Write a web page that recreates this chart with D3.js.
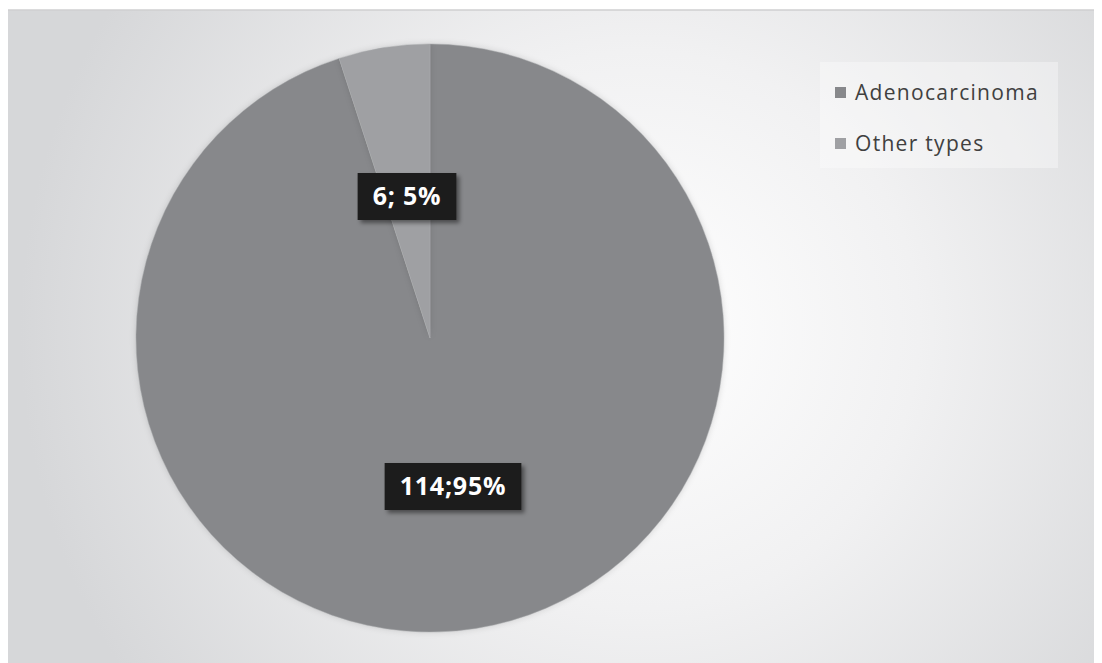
<!DOCTYPE html>
<html><head><meta charset="utf-8">
<script src="https://cdn.jsdelivr.net/npm/d3@7"></script>
<style>html,body{margin:0;padding:0;background:#fff;}svg{display:block;}</style>
</head><body><div id="chart"></div>
<script>
const categories = ["Adenocarcinoma", "Other types"];
const values = [114, 6];
const percents = ["95%", "5%"];
const colors = ["#87888b", "#9fa0a3"];

const W = 1102, H = 663;
const svg = d3.select("#chart").append("svg").attr("width", W).attr("height", H);
const defs = svg.append("defs");
const bg = defs.append("radialGradient").attr("id", "bg")
  .attr("gradientUnits", "userSpaceOnUse").attr("cx", 640).attr("cy", 330).attr("r", 620);
bg.append("stop").attr("offset", "0%").attr("stop-color", "#ffffff");
bg.append("stop").attr("offset", "45%").attr("stop-color", "#f1f1f2");
bg.append("stop").attr("offset", "100%").attr("stop-color", "#d6d7d9");
const sh = defs.append("filter").attr("id", "sh").attr("x", "-20%").attr("y", "-20%").attr("width", "150%").attr("height", "160%");
sh.append("feDropShadow").attr("dx", 3).attr("dy", 3).attr("stdDeviation", 2).attr("flood-color", "#000").attr("flood-opacity", 0.45);
const psh = defs.append("filter").attr("id", "psh").attr("x", "-10%").attr("y", "-10%").attr("width", "120%").attr("height", "120%");
psh.append("feDropShadow").attr("dx", 0).attr("dy", 0).attr("stdDeviation", 3).attr("flood-color", "#000").attr("flood-opacity", 0.15);

svg.append("rect").attr("x", 8).attr("y", 10).attr("width", 1086).attr("height", 660)
  .attr("fill", "url(#bg)");
svg.append("line").attr("x1", 8).attr("x2", 1094).attr("y1", 10).attr("y2", 10)
  .attr("stroke", "#cfcfd1").attr("stroke-width", 1.5);

const cx = 430, cy = 338, R = 294;
const pie = d3.pie().sort(null).value(d => d.v);
const data = categories.map((c, i) => ({c, v: values[i], p: percents[i], i}));
const arcs = pie(data);
const arc = d3.arc().innerRadius(0).outerRadius(R);
const g = svg.append("g").attr("transform", `translate(${cx},${cy})`);
g.selectAll("path").data(arcs).join("path")
  .attr("d", arc).attr("fill", d => colors[d.data.i]).attr("filter", "url(#psh)");
g.selectAll("path.sep").data(arcs).join("path").attr("class", "sep")
  .attr("d", arc).attr("fill", "none").attr("stroke", "#a8a9ac").attr("stroke-width", 1).attr("stroke-opacity", 0.5);

// labels
const labelPos = [[453 - cx, 486 - cy], [407 - cx, 196 - cy]];
const labelText = arcs.map(d => d.data.i === 0 ? `${d.data.v};${d.data.p}` : `${d.data.v}; ${d.data.p}`);
const lg = g.selectAll("g.lab").data(arcs).join("g").attr("class", "lab")
  .attr("transform", (d, i) => `translate(${labelPos[i][0]},${labelPos[i][1]})`);
lg.each(function(d, i) {
  const s = d3.select(this);
  const t = s.append("text").attr("text-anchor", "middle").attr("dy", "0.36em")
    .attr("font-family", "'Open Sans', 'DejaVu Sans', sans-serif").attr("font-weight", "bold")
    .attr("font-size", 25).attr("letter-spacing", 0.8).attr("fill", "#fff").text(labelText[i]);
  const bb = t.node().getBBox();
  s.insert("rect", "text").attr("x", -(bb.width + 30) / 2).attr("y", -23).attr("width", bb.width + 30).attr("height", 47)
    .attr("fill", "#1d1d1d").attr("filter", "url(#sh)");
});

// legend
svg.append("rect").attr("x", 820).attr("y", 62).attr("width", 238).attr("height", 106)
  .attr("fill", "#ffffff").attr("fill-opacity", 0.35);
const leg = svg.append("g");
const li = leg.selectAll("g").data(categories).join("g")
  .attr("transform", (d, i) => `translate(835,${92 + i * 51})`);
li.append("rect").attr("x", 0).attr("y", -5).attr("width", 11).attr("height", 11).attr("fill", (d, i) => colors[i]);
li.append("text").attr("x", 20).attr("dy", "0.36em")
  .attr("font-family", "'Open Sans', 'DejaVu Sans', sans-serif").attr("font-size", 21).attr("letter-spacing", 1.3)
  .attr("fill", "#404040").text(d => d);
</script></body></html>
